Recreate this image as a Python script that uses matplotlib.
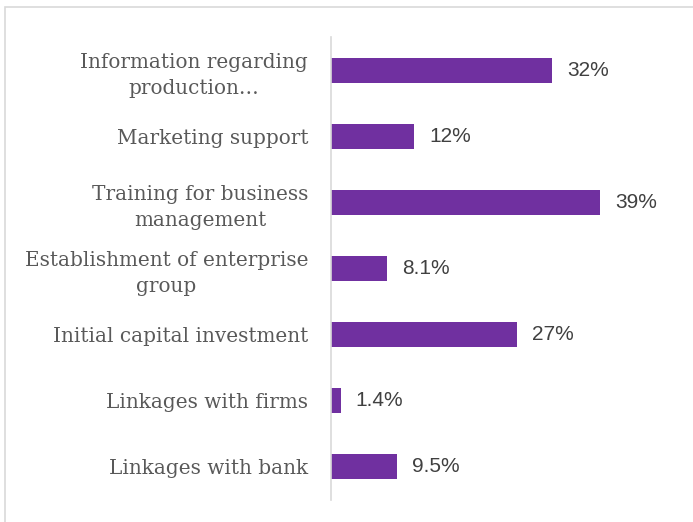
import matplotlib
matplotlib.use("Agg")
import matplotlib.pyplot as plt
from matplotlib.patches import Rectangle

categories = [
    "Information regarding\nproduction…",
    "Marketing support",
    "Training for business\nmanagement",
    "Establishment of enterprise\ngroup",
    "Initial capital investment",
    "Linkages with firms",
    "Linkages with bank",
]
values = [32, 12, 39, 8.1, 27, 1.4, 9.5]
value_labels = ["32%", "12%", "39%", "8.1%", "27%", "1.4%", "9.5%"]

W, H = 693, 522
fig = plt.figure(figsize=(W / 100, H / 100), dpi=100)
fig.patch.set_facecolor("white")

# chart-area border
fig.add_artist(Rectangle((5 / W, -0.01), 1.0, 1 - 7 / H + 0.01,
                         transform=fig.transFigure, fill=False,
                         edgecolor="#d9d9d9", linewidth=1.2))

left, right, top, bottom = 331, 641.5, 37, 500
ax = fig.add_axes([left / W, 1 - bottom / H, (right - left) / W, (bottom - top) / H])

pos = list(range(len(categories)))
ax.barh(pos, values, height=0.38, color="#7030A0")
ax.set_ylim(len(categories) - 0.5, -0.5)
ax.set_xlim(0, 45)

for p, v, lab in zip(pos, values, value_labels):
    ax.text(v + 2.2, p, lab, va="center", ha="left",
            fontsize=15, color="#404040", family="Liberation Sans")

ax.set_yticks(pos)
ax.set_yticklabels(categories, fontsize=14.4, color="#595959",
                   family="DejaVu Serif", linespacing=1.45,
                   multialignment="center")
ax.tick_params(axis="y", length=0, pad=16.5)
ax.set_xticks([])
for s in ["top", "right", "bottom"]:
    ax.spines[s].set_visible(False)
ax.spines["left"].set_color("#d9d9d9")
ax.spines["left"].set_linewidth(1.2)

fig.savefig("out.png", dpi=100)
